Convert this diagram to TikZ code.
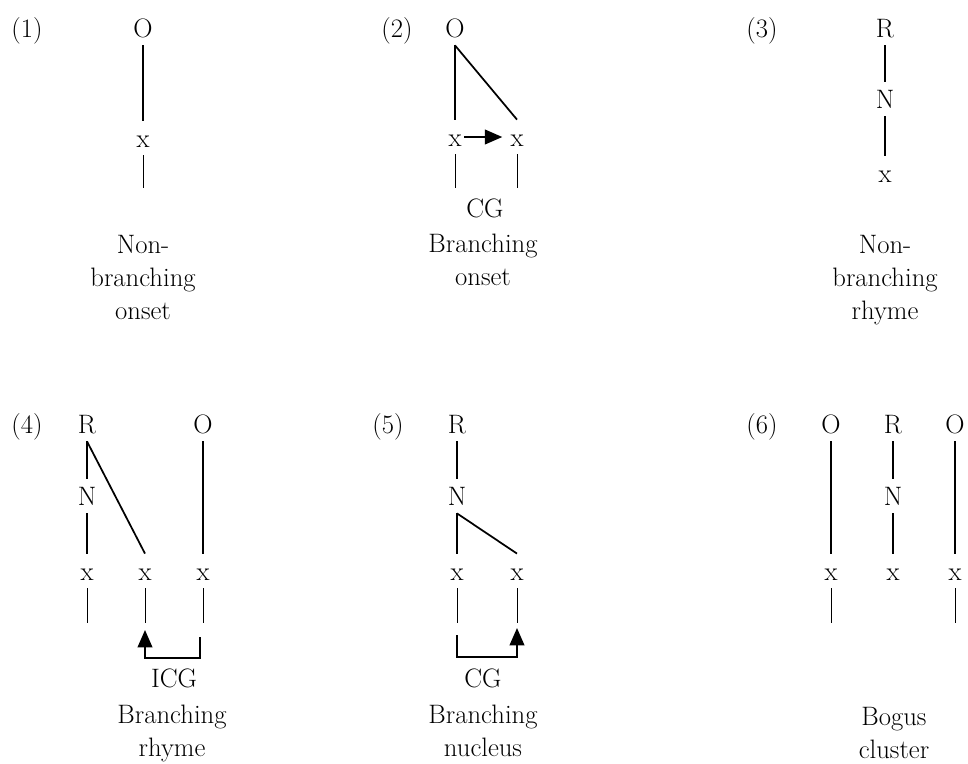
\documentclass[tikz,border=0pt]{standalone}
\usetikzlibrary{arrows.meta}
\begin{document}
\begin{tikzpicture}[x=0.75pt,y=-0.75pt,
    every node/.style={font=\fontsize{20}{24.75}\selectfont},
    seg/.style={text height=13.7pt,text depth=0pt,inner sep=6pt},
    lbl/.style={align=center,inner sep=0pt,anchor=north},
    gl/.style={inner sep=0pt,anchor=base},
    br/.style={line width=1.3pt},
    stub/.style={line width=0.6pt},
    arr/.style={line width=1.3pt,-{Triangle[length=13pt,width=11pt]}}]
    \useasboundingbox (0,0) rectangle (968,764);
            \node [seg] (n1) at (27,28) {(1)};
            \node [seg] (o1) at (143,28) {O};
            \node [seg] (x1) at (143,138) {x};
            \coordinate (t1) at (143,188);
            \draw [br] (o1)-- (x1);
            \draw [stub] (x1)-- (t1);
            \node [lbl] (l1) at (143,235) {Non-\\branching\\onset};
            \node [seg] (n2) at (397,28) {(2)};
            \node [seg] (o2) at (455,28) {O};
            \node [seg] (x2a) at (455,137) {x};
            \node [seg] (x2b) at (517,137) {x};
            \coordinate (t2a) at (455,188);
            \coordinate (t2b) at (517,188);
            \draw [br] (o2)-- (x2a);
            \draw [br] (o2.south)-- (x2b.north);
            \draw [arr, shorten <=-4pt] (x2a)-- (x2b);
            \draw [stub] (x2a)-- (t2a);
            \draw [stub] (x2b)-- (t2b);
            \node [gl] (g2) at (485,217) {CG};
            \node [lbl] (l2) at (483,234) {Branching\\onset};
            \node [seg] (n3) at (762,28) {(3)};
            \node [seg] (r3) at (885,28) {R};
            \node [seg] (nu3) at (885,99) {N};
            \node [seg] (x3) at (885,173) {x};
            \draw [br] (r3)-- (nu3);
            \draw [br] (nu3)-- (x3);
            \node [lbl] (l3) at (885,235) {Non-\\branching\\rhyme};
            \node [seg] (n4) at (27,424) {(4)};
            \node [seg] (r4) at (87,424) {R};
            \node [seg] (o4) at (203,424) {O};
            \node [seg] (nu4) at (87,496) {N};
            \node [seg] (x4a) at (87,571) {x};
            \node [seg] (x4b) at (145,571) {x};
            \node [seg] (x4c) at (203,571) {x};
            \coordinate (t4a) at (87,623);
            \coordinate (t4b) at (145,623);
            \coordinate (t4c) at (203,623);
            \coordinate (b4c) at (200,637);
            \coordinate (b4b) at (145,630);
            \draw [br] (r4)-- (nu4);
            \draw [br] (nu4)-- (x4a);
            \draw [br] (r4.south)-- (x4b.north);
            \draw [br] (o4)-- (x4c);
            \draw [stub] (x4a)-- (t4a);
            \draw [stub] (x4b)-- (t4b);
            \draw [stub] (x4c)-- (t4c);
            \draw [arr] (b4c)-- ++(0,21) -| (b4b);
            \node [gl] (g4) at (174,687) {ICG};
            \node [lbl] (l4) at (172,705) {Branching\\rhyme};
            \node [seg] (n5) at (388,424) {(5)};
            \node [seg] (r5) at (457,424) {R};
            \node [seg] (nu5) at (457,496) {N};
            \node [seg] (x5a) at (457,571) {x};
            \node [seg] (x5b) at (517,571) {x};
            \coordinate (t5a) at (457,623);
            \coordinate (t5b) at (517,623);
            \coordinate (b5a) at (457,635);
            \coordinate (b5b) at (517,628);
            \draw [br] (r5)-- (nu5);
            \draw [br] (nu5)-- (x5a);
            \draw [br] (nu5.south)-- (x5b.north);
            \draw [stub] (x5a)-- (t5a);
            \draw [stub] (x5b)-- (t5b);
            \draw [arr] (b5a)-- ++(0,22) -| (b5b);
            \node [gl] (g5) at (483,687) {CG};
            \node [lbl] (l5) at (483,705) {Branching\\nucleus};
            \node [seg] (n6) at (762,424) {(6)};
            \node [seg] (o6a) at (831,424) {O};
            \node [seg] (r6) at (893,424) {R};
            \node [seg] (o6c) at (955,424) {O};
            \node [seg] (nu6) at (893,496) {N};
            \node [seg] (x6a) at (831,571) {x};
            \node [seg] (x6b) at (893,571) {x};
            \node [seg] (x6c) at (955,571) {x};
            \coordinate (t6a) at (831,623);
            \coordinate (t6c) at (955,623);
            \draw [br] (o6a)-- (x6a);
            \draw [br] (r6)-- (nu6);
            \draw [br] (nu6)-- (x6b);
            \draw [br] (o6c)-- (x6c);
            \draw [stub] (x6a)-- (t6a);
            \draw [stub] (x6c)-- (t6c);
            \node [lbl] (l6) at (894,707) {Bogus\\cluster};
\end{tikzpicture}
\end{document}
